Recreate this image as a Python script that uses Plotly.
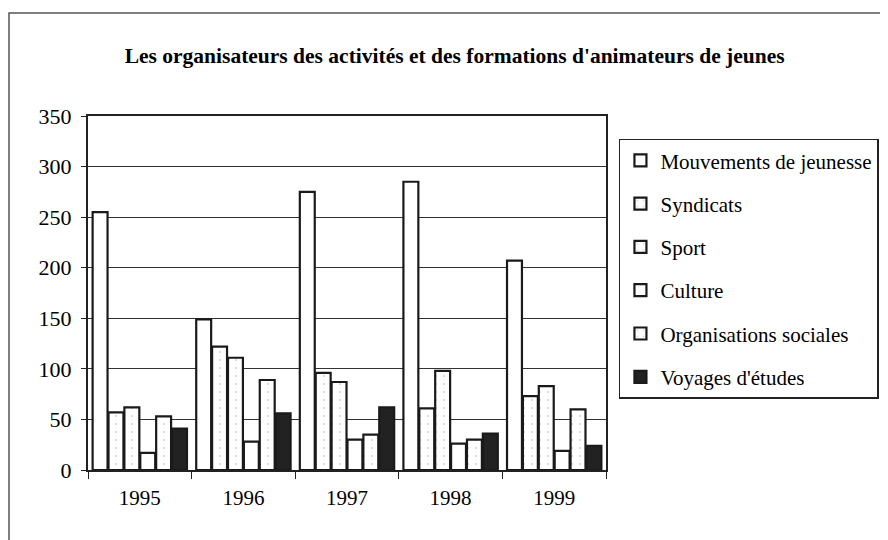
import plotly.graph_objects as go

years = ["1995", "1996", "1997", "1998", "1999"]
mouvements = [255, 149, 275, 285, 207]
syndicats = [57, 122, 96, 61, 73]
sport = [62, 111, 87, 98, 83]
culture = [17, 28, 30, 26, 19]
organisations = [53, 89, 35, 30, 60]
voyages = [41, 56, 62, 36, 24]

series = [
    ("Mouvements de jeunesse", mouvements, "white", ""),
    ("Syndicats", syndicats, "white", "."),
    ("Sport", sport, "white", "."),
    ("Culture", culture, "white", ""),
    ("Organisations sociales", organisations, "white", "."),
    ("Voyages d'études", voyages, "#222222", ""),
]

font = "Liberation Serif"
fig = go.Figure()
for i, (name, vals, color, pat) in enumerate(series):
    marker = dict(color=color, line=dict(color="#1a1a1a", width=2.2))
    if pat:
        marker["pattern"] = dict(shape=pat, fgcolor="#aaaaaa", bgcolor="white", size=8, solidity=0.06)
    fig.add_trace(go.Bar(name=name, x=years, y=vals, marker=marker, legendgroup=f"g{i}"))

fig.update_layout(
    width=888, height=540,
    paper_bgcolor="white", plot_bgcolor="white",
    barmode="group", bargap=0.08, bargroupgap=0.06,
    margin=dict(l=80, r=290, t=108, b=78),
    font=dict(family=font, size=20, color="black"),
    title=dict(text="<b>Les organisateurs des activités et des formations d'animateurs de jeunes</b>",
               x=0.503, xanchor="center", y=0.913, yanchor="middle",
               font=dict(family=font, size=21.5, color="black")),
    legend=dict(x=1.025, xanchor="left", y=0.936, yanchor="top",
                bordercolor="#222222", borderwidth=1.5, bgcolor="white",
                font=dict(family=font, size=21, color="black"),
                tracegroupgap=13, itemwidth=30),
    showlegend=True,
)
fig.update_xaxes(showline=True, linecolor="#222222", linewidth=1.5, mirror=True,
                 ticks="outside", tickson="boundaries", ticklen=7, tickcolor="#222222",
                 ticklabelstandoff=8,
                 showgrid=False, tickfont=dict(family=font, size=21))
fig.update_yaxes(range=[0, 350], dtick=50, showline=True, linecolor="#222222", linewidth=2,
                 mirror=True, ticks="outside", ticklen=5, tickcolor="#222222",
                 ticklabelstandoff=5,
                 showgrid=True, gridcolor="#333333", gridwidth=1.2,
                 tickfont=dict(family=font, size=22))

# outer frame
fig.add_shape(type="rect", xref="paper", yref="paper",
              x0=-0.1525, x1=1.8, y0=-0.5, y1=1.291,
              line=dict(color="#555555", width=1.5))

fig.write_html("out.html")
